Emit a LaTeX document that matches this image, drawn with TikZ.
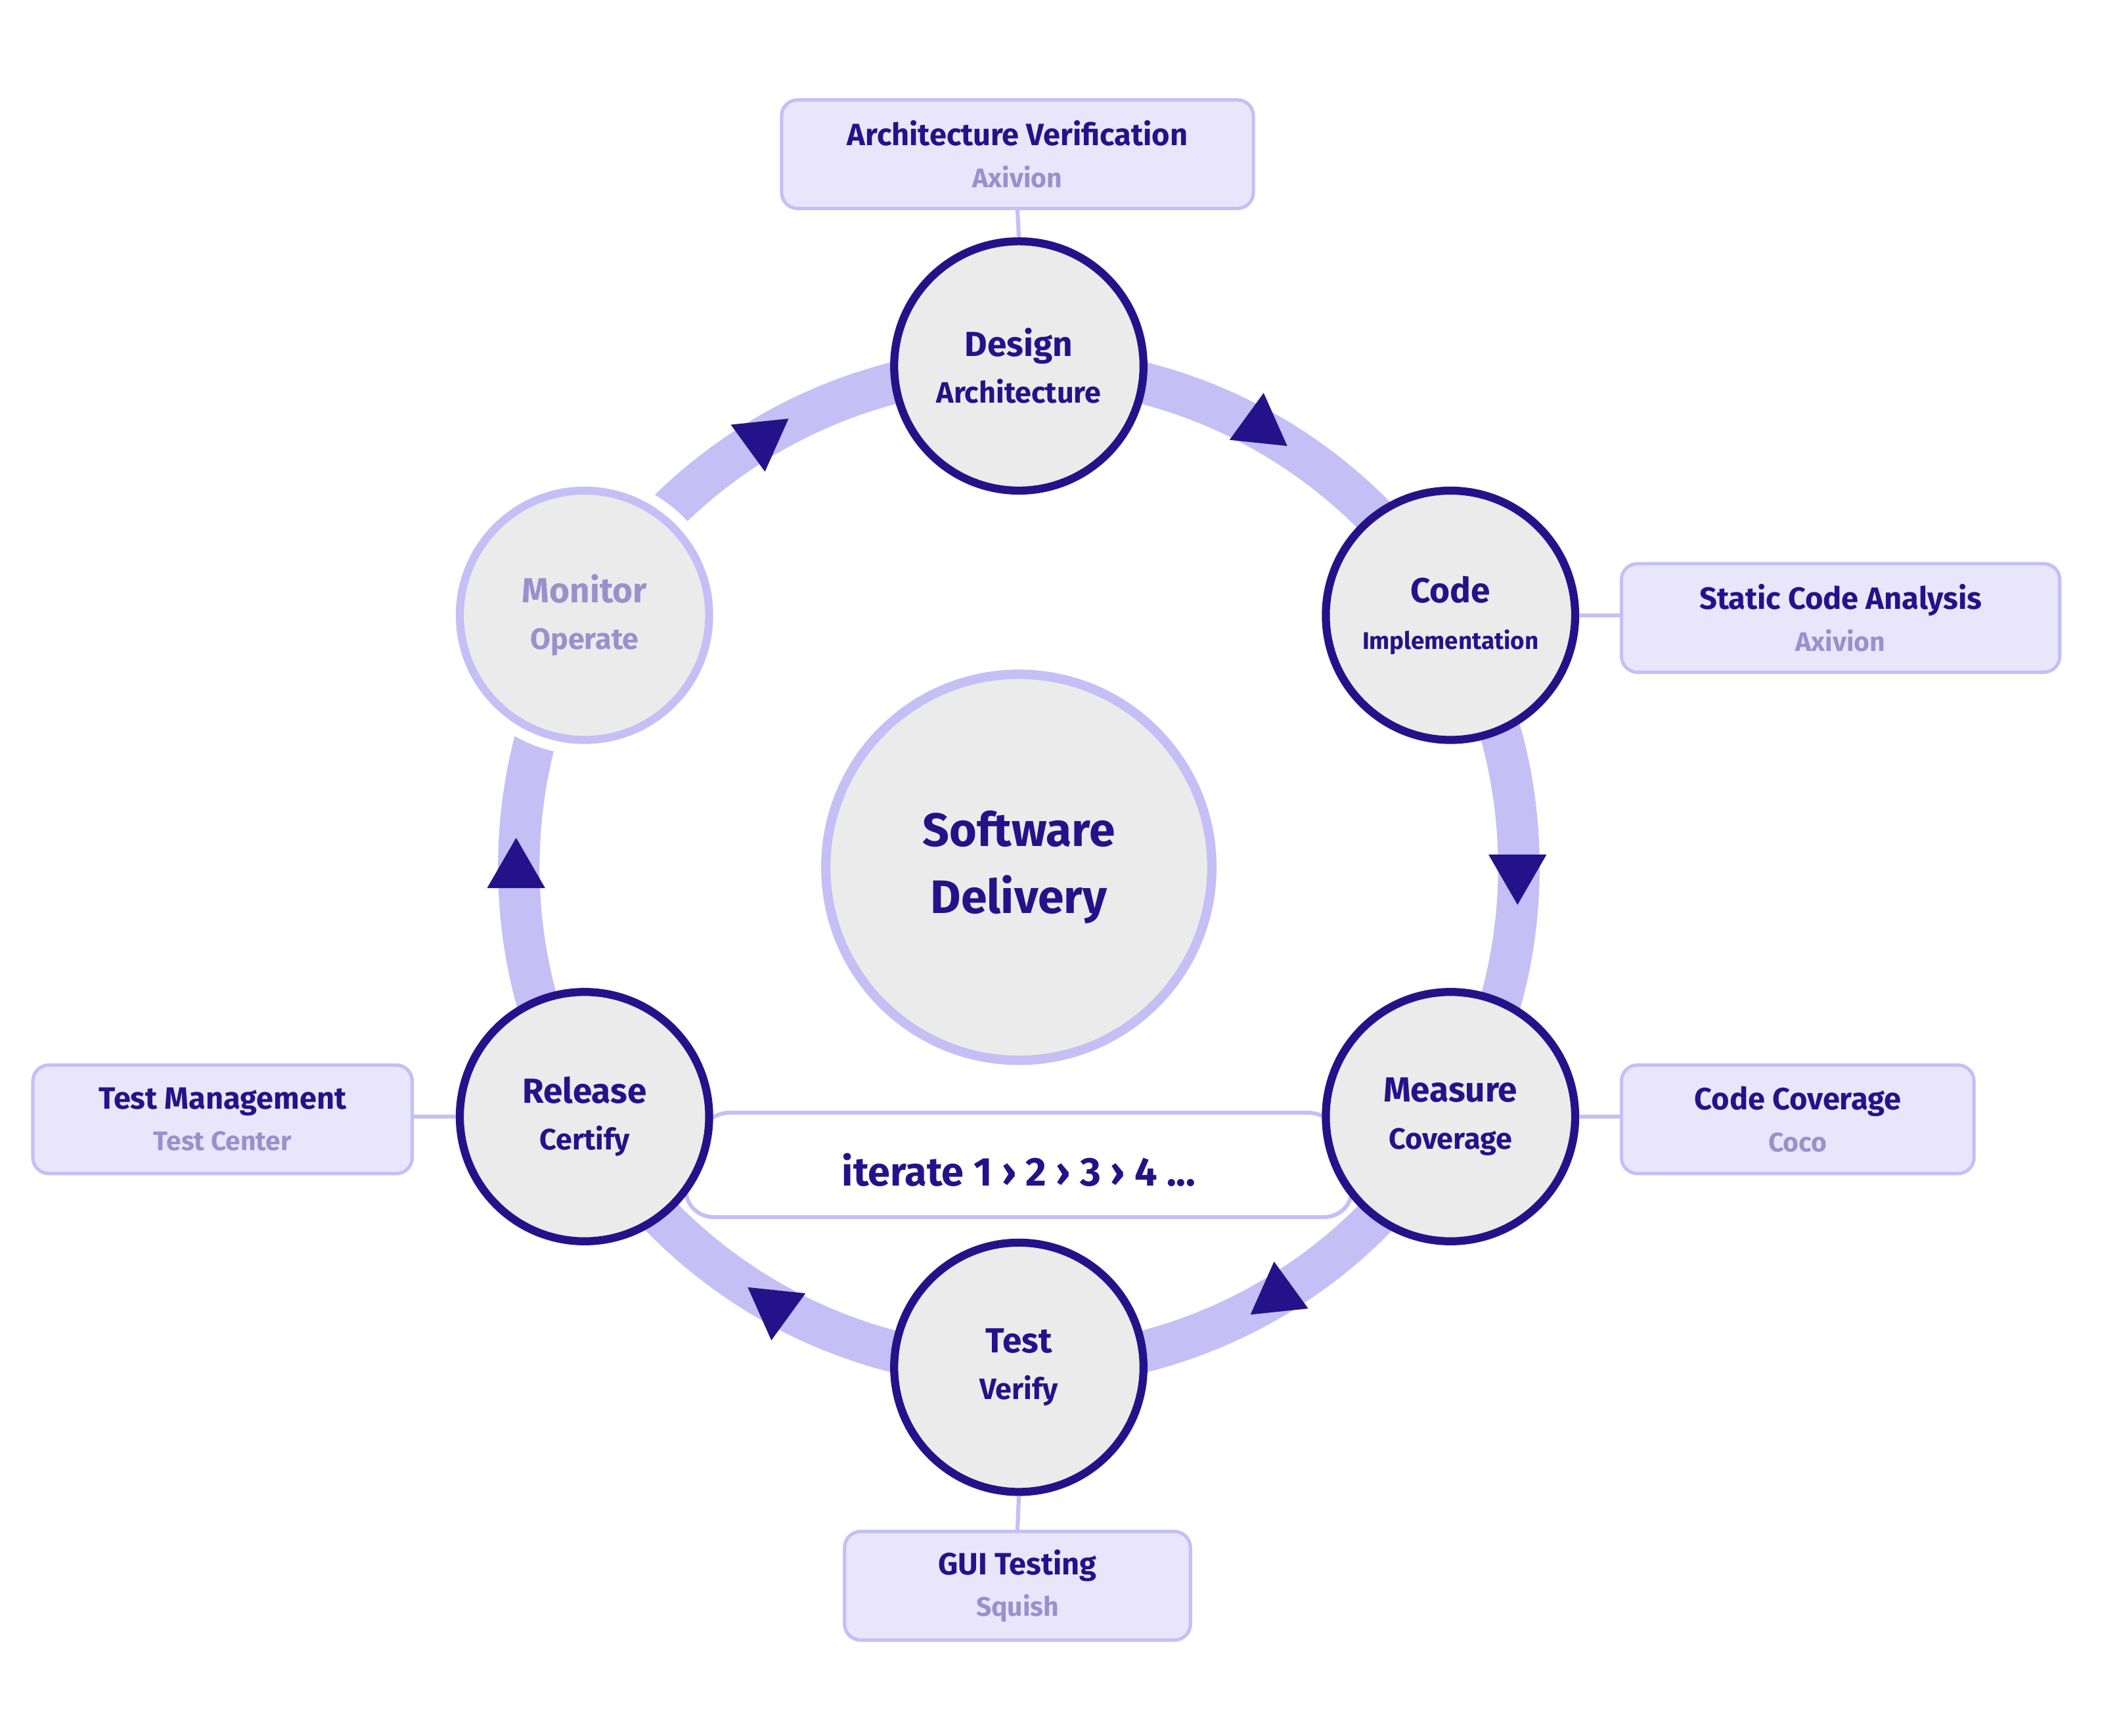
\documentclass[tikz,border=0pt]{standalone}
\usepackage{fontspec}
\setmainfont{Fira Sans}
\usetikzlibrary{shapes.geometric}
\definecolor{dk}{HTML}{25128A}
\definecolor{lt}{HTML}{C4BFF5}
\definecolor{bx}{HTML}{E9E6FB}
\definecolor{gr}{HTML}{EBEBEB}
\definecolor{sub}{HTML}{9A90CC}
\begin{document}
\begin{tikzpicture}[x=1pt,y=-1pt,
  stage/.style={circle,draw=dk,line width=6pt,fill=gr,minimum size=186pt,inner sep=0pt,align=center,text=dk,font=\bfseries\fontsize{26}{35}\selectfont},
  tool/.style={rounded corners=12pt,draw=lt,line width=2.5pt,fill=bx,align=center,text=dk,font=\bfseries\fontsize{23}{31}\selectfont},
  tri/.style={regular polygon,regular polygon sides=3,fill=dk,minimum size=50pt,inner sep=0pt},
  conn/.style={draw=lt,line width=3pt}]
\useasboundingbox (0,0) rectangle (1568,1295);
% ring
\draw[lt,line width=31pt] (760,647) circle[radius=373];
% iterate box
\draw[lt,line width=3pt,rounded corners=25pt] (520,830) -- (1000,830) -- (1012,908) -- (508,908) -- cycle;
\node (it) at (760,873) {\bfseries\color{dk}\fontsize{30}{36}\selectfont iterate 1 › 2 › 3 › 4 ...};
% center
\node[circle,draw=lt,line width=7pt,fill=gr,minimum size=288pt,align=center,text=dk,font=\bfseries\fontsize{35}{50}\selectfont] (c) at (760,647) {Software\\Delivery};
% stages
\node[stage] (des) at (760,273) {Design\\{\fontsize{22}{30}\selectfont Architecture}};
\node[stage] (cod) at (1082,459) {Code\\{\fontsize{18}{30}\selectfont Implementation}};
\node[stage] (mea) at (1082,833) {Measure\\{\fontsize{22}{30}\selectfont Coverage}};
\node[stage] (tst) at (760,1020) {Test\\{\fontsize{22}{30}\selectfont Verify}};
\node[stage] (rel) at (436,833) {Release\\{\fontsize{22}{30}\selectfont Certify}};
\draw[white,line width=16pt] (436,459) circle[radius=96];
\node[stage,draw=lt,text=sub] (mon) at (436,459) {Monitor\\{\fontsize{22}{30}\selectfont Operate}};
% arrows
\node[tri,rotate=-6] (a1) at (940,318) {};
\node[tri,rotate=180] (a2) at (1132,650) {};
\node[tri,rotate=6] (a3) at (953,966) {};
\node[tri,rotate=174] (a4) at (578,975) {};
\node[tri] (a5) at (385,650) {};
\node[tri,rotate=186] (a6) at (568,327) {};
% tools
\node[tool,minimum width=352pt,minimum height=81pt] (t1) at (759,115) {Architecture Verification\\{\color{sub}\fontsize{20}{26}\selectfont Axivion}};
\node[tool,minimum width=327pt,minimum height=81pt] (t2) at (1373,461) {Static Code Analysis\\{\color{sub}\fontsize{20}{26}\selectfont Axivion}};
\node[tool,minimum width=263pt,minimum height=81pt] (t3) at (1341,835) {Code Coverage\\{\color{sub}\fontsize{20}{26}\selectfont Coco}};
\node[tool,minimum width=283pt,minimum height=81pt] (t4) at (166,835) {Test Management\\{\color{sub}\fontsize{20}{26}\selectfont Test Center}};
\node[tool,minimum width=258pt,minimum height=81pt] (t5) at (759,1183) {GUI Testing\\{\color{sub}\fontsize{20}{26}\selectfont Squish}};
\path[conn] (t1.south) -- (des.north);
\path[conn] (cod.east) -- (t2.west |- cod.east);
\path[conn] (mea.east) -- (t3.west |- mea.east);
\path[conn] (rel.west) -- (t4.east |- rel.west);
\path[conn] (tst.south) -- (t5.north);
\end{tikzpicture}
\end{document}
